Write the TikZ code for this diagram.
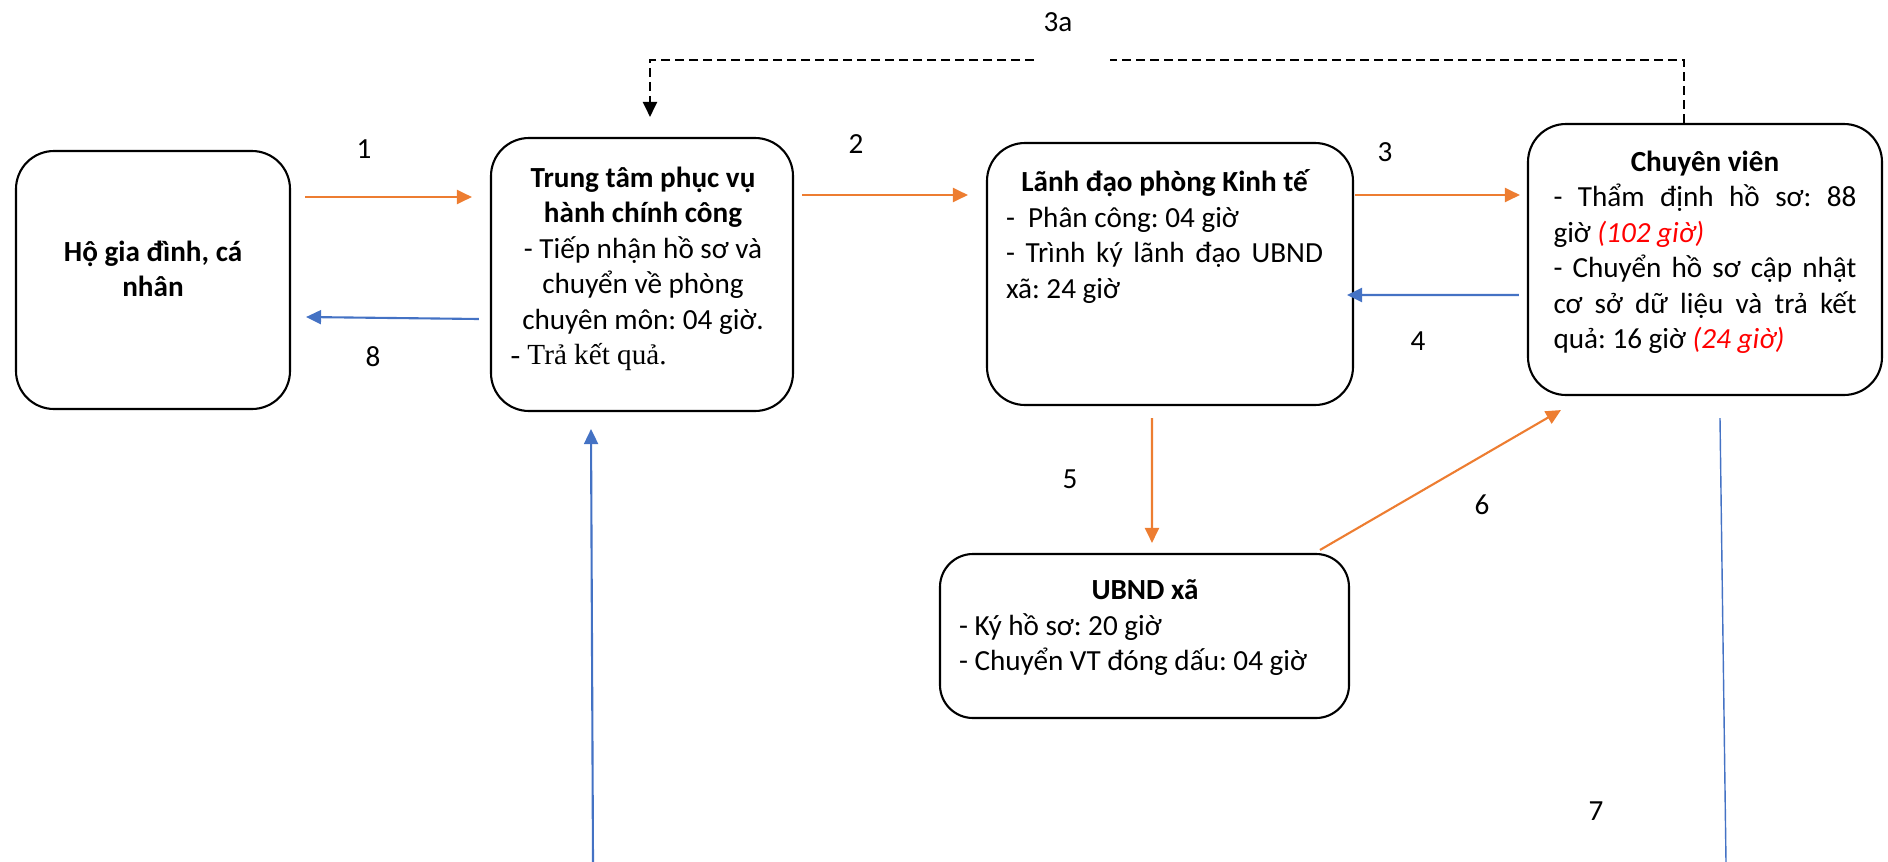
\documentclass[tikz,border=0pt]{standalone}
\usepackage{fontspec}
\setmainfont{Carlito}
\newfontfamily\timesfont{Liberation Serif}
\usetikzlibrary{arrows.meta}
\definecolor{orangeln}{RGB}{237,125,49}
\definecolor{blueln}{RGB}{68,114,196}
\setlength{\parindent}{0pt}
\frenchspacing

\begin{document}
\begin{tikzpicture}[x=0.1mm, y=-0.1mm, font=\fontsize{8.3}{10.1}\selectfont,
	stage/.style = {shape=rectangle, draw, line width=0.6pt, rounded corners=3.8mm, inner sep=0pt},
	body/.style = {inner sep=0pt, anchor=north, align=justify, text width=#1},
	num/.style = {inner sep=0pt},
	fwd/.style = {draw=orangeln, line width=0.6pt, -{Triangle[length=1.5mm, width=1.4mm]}},
	ret/.style = {draw=blueln, line width=0.6pt, -{Triangle[length=1.5mm, width=1.4mm]}},
	dashln/.style = {draw, line width=0.6pt, dash pattern=on 0.9mm off 0.5mm}]
	\useasboundingbox (0,0) rectangle (1888,862);
	\node[stage, minimum width=27.4mm, minimum height=25.8mm] (ho) at (153,280) {};
	\node[stage, minimum width=30.2mm, minimum height=27.3mm] (tt) at (642,274.5) {};
	\node[stage, minimum width=36.6mm, minimum height=26.2mm] (ld) at (1170,274) {};
	\node[stage, minimum width=35.4mm, minimum height=27.1mm] (cv) at (1705,259.5) {};
	\node[stage, minimum width=40.9mm, minimum height=16.4mm, rounded corners=3.3mm] (ub) at (1144.5,636) {};
	\node[body=24mm] (ho-t) at ([shift={(0,90)}]ho.north) {{\centering\bfseries Hộ gia đình, cá\\nhân\par}};
	\node[body=26.5mm] (tt-t) at ([shift={(1,29)}]tt.north) {{\centering\bfseries Trung tâm phục vụ\\hành chính công\par}{\centering - Tiếp nhận hồ sơ và\\chuyển về phòng\\chuyên môn: 04 giờ.\par}{\timesfont - Trả kết quả.\par}};
	\node[body=31.7mm] (ld-t) at ([shift={(-5.5,27)}]ld.north) {{\centering\bfseries Lãnh đạo phòng Kinh tế\par}- ~Phân công: 04 giờ\par - Trình ký lãnh đạo UBND\linebreak xã: 24 giờ\par};
	\node[body=30.3mm] (cv-t) at ([shift={(0,27)}]cv.north) {{\centering\bfseries Chuyên viên\par}- Thẩm định hồ sơ: 88\linebreak giờ {\color{red}\itshape (102 giờ)}\par - Chuyển hồ sơ cập nhật\linebreak cơ sở dữ liệu và trả kết\linebreak quả: 16 giờ {\color{red}\itshape (24 giờ)}\par};
	\node[body=37.2mm] (ub-t) at ([shift={(0.5,26)}]ub.north) {{\centering\bfseries UBND xã\par}- Ký hồ sơ: 20 giờ\par - Chuyển VT đóng dấu: 04 giờ\par};
	\node[num] (n1) at (364,149) {1};
	\node[num] (n2) at (856,144) {2};
	\node[num] (n3) at (1385,152) {3};
	\node[num] (n3a) at (1058,22) {3a};
	\node[num] (n4) at (1418,341) {4};
	\node[num] (n5) at (1070,479) {5};
	\node[num] (n6) at (1482,505) {6};
	\node[num] (n7) at (1596,811) {7};
	\node[num] (n8) at (373,357) {8};
	\coordinate (gapR) at (1110,60);
	\coordinate (gapL) at (1034,60);
	\coordinate (retin) at (593,862);
	\coordinate (out7) at (1726,862);
	\draw[fwd] ([shift={(14,-83)}]ho.east) -- ([shift={(-18,-77.5)}]tt.west);
	\draw[fwd] ([shift={(8,-79.5)}]tt.east) -- ([shift={(-18,-79)}]ld.west);
	\draw[fwd] ([shift={(1,-79)}]ld.east) -- ([shift={(-7,-64.5)}]cv.west);
	\draw[ret] ([shift={(-8,35.5)}]cv.west) -- ([shift={(-7,21)}]ld.east);
	\draw[ret] ([shift={(-11,44.5)}]tt.west) -- ([shift={(15,37)}]ho.east);
	\draw[fwd] ([shift={(-18,12)}]ld.south) -- ([shift={(7.5,-10)}]ub.north);
	\draw[fwd] ([shift={(175.5,-3)}]ub.north) -- ([shift={(34,14)}]cv.south west);
	\draw[ret] (retin) -- ([shift={(-51,17)}]tt.south);
	\draw[draw=blueln, line width=0.4pt] ([shift={(15,22)}]cv.south) -- (out7);
	\draw[dashln] ([shift={(-21,0)}]cv.north) |- (gapR);
	\draw[dashln, -{Triangle[length=1.5mm, width=1.4mm]}] (gapL) -| ([shift={(8,-20)}]tt.north);
\end{tikzpicture}
\end{document}
